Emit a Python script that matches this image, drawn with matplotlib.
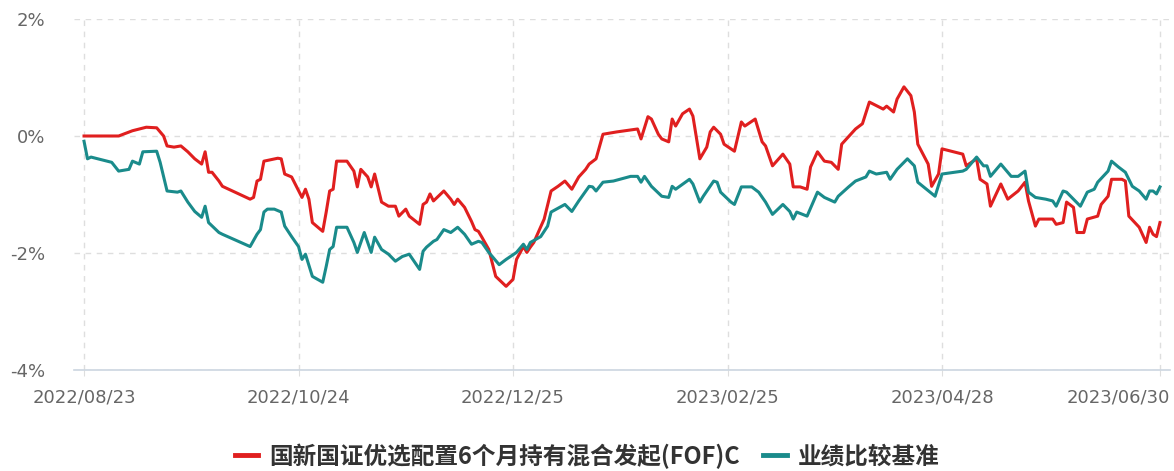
import matplotlib
matplotlib.use("Agg")
import matplotlib.pyplot as plt
import matplotlib.transforms as mtransforms
import pandas as pd

START = "2022-08-23"

fund_name = "国新国证优选配置6个月持有混合发起(FOF)C"
bench_name = "业绩比较基准"

# days after START, cumulative return in %
fund_day = [0, 10, 14, 18, 21, 23, 24, 26, 28, 30, 32, 34, 35, 36, 37, 39, 40, 48, 49, 50,
            51, 52, 56, 57, 58, 60, 63, 64, 65, 66, 69, 70, 71, 72, 73, 76, 78, 79, 80, 82,
            83, 84, 86, 88, 90, 91, 93, 94, 97, 98, 99, 100, 101, 104, 106, 107, 108, 110, 112, 113,
            114, 115, 117, 119, 122, 124, 125, 127, 128, 129, 130, 133, 135, 137, 139, 141, 143, 145, 146, 148,
            150, 154, 160, 161, 163, 164, 166, 167, 169, 170, 171, 173, 175, 176, 178, 180, 181, 182, 184, 185,
            188, 190, 191, 194, 196, 197, 199, 202, 204, 205, 207, 209, 210, 212, 214, 216, 218, 219, 223, 225,
            227, 231, 232, 234, 235, 237, 239, 240, 241, 244, 245, 247, 248, 254, 255, 258, 259, 261, 262, 265,
            267, 270, 272, 273, 275, 276, 280, 281, 283, 284, 286, 287, 289, 290, 293, 294, 296, 297, 300, 301,
            302, 305, 307, 308, 309, 310, 311]
fund_val = [0.00, 0.00, 0.09, 0.15, 0.14, 0.00, -0.17, -0.19, -0.17, -0.27, -0.39, -0.48, -0.27, -0.62, -0.62, -0.77, -0.86, -1.08, -1.05, -0.77,
            -0.74, -0.43, -0.38, -0.39, -0.65, -0.70, -1.05, -0.91, -1.08, -1.48, -1.63, -1.30, -0.94, -0.91, -0.43, -0.43, -0.60, -0.87, -0.57, -0.70,
            -0.87, -0.65, -1.13, -1.20, -1.20, -1.37, -1.25, -1.37, -1.51, -1.17, -1.13, -0.99, -1.11, -0.94, -1.08, -1.17, -1.08, -1.22, -1.46, -1.60,
            -1.63, -1.73, -1.94, -2.40, -2.57, -2.45, -2.11, -1.89, -1.99, -1.90, -1.82, -1.42, -0.94, -0.86, -0.77, -0.91, -0.70, -0.57, -0.48, -0.39,
            0.03, 0.07, 0.12, -0.05, 0.33, 0.29, 0.03, -0.05, -0.10, 0.29, 0.17, 0.38, 0.46, 0.34, -0.39, -0.19, 0.07, 0.15, 0.03, -0.14,
            -0.26, 0.24, 0.17, 0.29, -0.10, -0.17, -0.51, -0.31, -0.48, -0.87, -0.87, -0.91, -0.53, -0.27, -0.43, -0.45, -0.57, -0.14, 0.12, 0.21,
            0.58, 0.46, 0.51, 0.41, 0.63, 0.84, 0.69, 0.41, -0.14, -0.48, -0.86, -0.65, -0.22, -0.31, -0.51, -0.39, -0.74, -0.82, -1.20, -0.82,
            -1.08, -0.94, -0.79, -1.11, -1.54, -1.42, -1.42, -1.51, -1.48, -1.13, -1.22, -1.65, -1.65, -1.42, -1.37, -1.17, -1.03, -0.74, -0.74, -0.77,
            -1.37, -1.56, -1.82, -1.56, -1.68, -1.72, -1.48]

bench_day = [0, 1, 2, 4, 8, 10, 13, 14, 16, 17, 21, 22, 24, 27, 28, 30, 32, 34, 35, 36,
             39, 40, 48, 50, 51, 52, 53, 55, 57, 58, 60, 62, 63, 64, 66, 69, 70, 71, 72, 73,
             76, 78, 79, 81, 82, 83, 84, 86, 88, 90, 92, 94, 97, 98, 99, 101, 102, 104, 106, 108,
             110, 112, 114, 115, 117, 120, 122, 125, 127, 128, 129, 132, 134, 135, 139, 141, 143, 146, 147, 148,
             150, 153, 158, 160, 161, 162, 164, 167, 169, 170, 171, 175, 176, 178, 179, 182, 183, 184, 187, 188,
             190, 193, 195, 197, 199, 202, 204, 205, 206, 209, 212, 214, 217, 218, 221, 223, 226, 227, 229, 232,
             233, 235, 238, 240, 241, 246, 248, 254, 255, 258, 260, 261, 262, 265, 268, 270, 272, 273, 275, 278,
             280, 281, 283, 284, 286, 288, 290, 292, 293, 296, 297, 299, 301, 303, 305, 307, 308, 309, 310, 311]
bench_val = [-0.09, -0.39, -0.36, -0.39, -0.45, -0.60, -0.57, -0.43, -0.48, -0.27, -0.26, -0.45, -0.94, -0.96, -0.94, -1.13, -1.29, -1.39, -1.20, -1.48,
             -1.65, -1.68, -1.89, -1.68, -1.60, -1.30, -1.25, -1.25, -1.30, -1.54, -1.72, -1.89, -2.11, -2.02, -2.40, -2.50, -2.23, -1.94, -1.89, -1.56,
             -1.56, -1.82, -1.99, -1.65, -1.82, -1.99, -1.73, -1.94, -2.02, -2.14, -2.06, -2.02, -2.28, -1.97, -1.90, -1.80, -1.77, -1.60, -1.65, -1.56,
             -1.68, -1.85, -1.80, -1.82, -1.99, -2.20, -2.11, -1.99, -1.85, -1.94, -1.82, -1.72, -1.54, -1.30, -1.17, -1.29, -1.11, -0.86, -0.87, -0.94,
             -0.79, -0.77, -0.69, -0.69, -0.79, -0.69, -0.86, -1.03, -1.05, -0.86, -0.91, -0.74, -0.82, -1.13, -1.03, -0.77, -0.79, -0.96, -1.13, -1.17,
             -0.87, -0.87, -0.96, -1.13, -1.34, -1.17, -1.29, -1.42, -1.30, -1.37, -0.96, -1.05, -1.13, -1.03, -0.87, -0.77, -0.70, -0.60, -0.65, -0.62,
             -0.74, -0.57, -0.39, -0.51, -0.79, -1.03, -0.65, -0.60, -0.57, -0.36, -0.51, -0.51, -0.69, -0.48, -0.69, -0.69, -0.60, -0.96, -1.05, -1.08,
             -1.11, -1.20, -0.94, -0.96, -1.08, -1.20, -0.96, -0.91, -0.79, -0.60, -0.43, -0.53, -0.62, -0.86, -0.94, -1.08, -0.94, -0.94, -0.99, -0.87]

tick_labels = ["2022/08/23", "2022/10/24", "2022/12/25", "2023/02/25", "2023/04/28", "2023/06/30"]
y_ticks = [2, 0, -2, -4]

start = pd.Timestamp(START)
fund_x = start + pd.to_timedelta(fund_day, unit="D")
bench_x = start + pd.to_timedelta(bench_day, unit="D")
tick_x = pd.to_datetime(tick_labels, format="%Y/%m/%d")

RED = "#e01f1f"
TEAL = "#1a8b8b"
GRID = "#dedede"

fig = plt.figure(figsize=(11.74, 4.71), dpi=100)
ax = fig.add_axes([74 / 1174, 101 / 471, 1096 / 1174, 351 / 471])

ax.plot(fund_x, fund_val, color=RED, lw=2.2, label=fund_name, zorder=3)
ax.plot(bench_x, bench_val, color=TEAL, lw=2.2, label=bench_name, zorder=3)

ax.set_xlim(start - pd.Timedelta(days=2.9), start + pd.Timedelta(days=313.9))
ax.set_ylim(-4, 2)
ax.set_yticks(y_ticks)
ax.set_yticklabels([f"{v}%" for v in y_ticks])
ax.set_xticks(tick_x)
ax.set_xticklabels(tick_labels)

for s in ["top", "right", "left"]:
    ax.spines[s].set_visible(False)
ax.spines["bottom"].set_color("#ccd6e0")
ax.spines["bottom"].set_linewidth(1.2)

ax.grid(True, axis="both", color=GRID, linestyle=(0, (4, 4)), linewidth=1)
ax.set_axisbelow(True)

ax.tick_params(axis="y", length=0, pad=21, labelsize=13, labelcolor="#666666")
ax.tick_params(axis="x", length=4, color=GRID, pad=9, labelsize=13, labelcolor="#666666")

# last date label pushed inside the figure, like the original
last = ax.get_xticklabels()[-1]
last.set_horizontalalignment("right")
last.set_transform(last.get_transform() + mtransforms.ScaledTranslation(0.1, 0, fig.dpi_scale_trans))

leg = fig.legend(loc="lower center", bbox_to_anchor=(0.5, -0.04), ncol=2, frameon=False,
                 handlelength=1.0, handletextpad=0.45, columnspacing=1.0,
                 prop={"family": ["Noto Sans CJK SC", "DejaVu Sans"], "size": 17, "weight": "bold"})
for line in leg.get_lines():
    line.set_linewidth(3.5)
for t in leg.get_texts():
    t.set_color("#333333")

fig.savefig("out.png", dpi=100)
